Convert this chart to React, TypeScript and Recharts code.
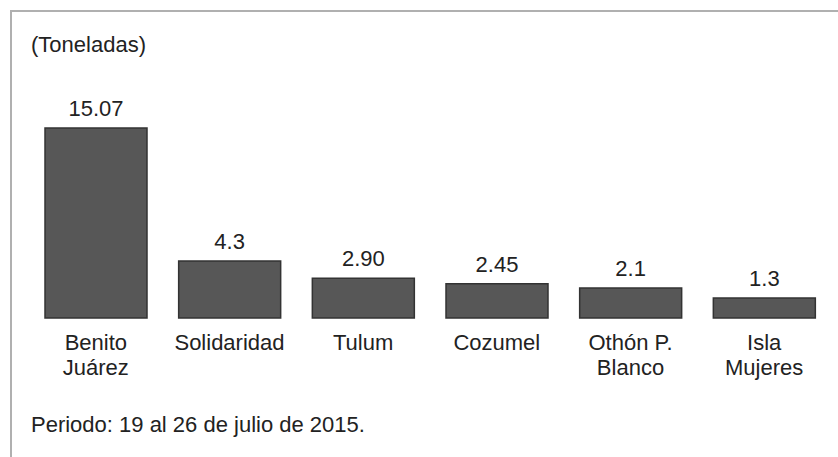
import { Bar, BarChart, LabelList, XAxis, YAxis } from "recharts";

// Municipios y toneladas
const municipios = ["Benito Juárez", "Solidaridad", "Tulum", "Cozumel", "Othón P. Blanco", "Isla Mujeres"];
const etiquetas = [["Benito", "Juárez"], ["Solidaridad"], ["Tulum"], ["Cozumel"], ["Othón P.", "Blanco"], ["Isla", "Mujeres"]];
const toneladas = [15.07, 4.3, 2.9, 2.45, 2.1, 1.3];
const textos = ["15.07", "4.3", "2.90", "2.45", "2.1", "1.3"];

// the printed bars start a little below zero
const base = -0.33;
const data = municipios.map((m, i) => ({ municipio: m, valor: toneladas[i], texto: textos[i] }));

const font = "'Liberation Sans', Arial, sans-serif";

function Tick(props: any) {
    const { x, y, index } = props;
    const lines = etiquetas[index] || [];
    return (
        <g>
            {lines.map((l, i) => (
                <text key={i} x={x} y={y + 24 + i * 25} textAnchor="middle" fill="#222" fontSize={22} fontFamily={font}>
                    {l}
                </text>
            ))}
        </g>
    );
}

export default function App() {
    return (
        <div style={{ position: "absolute", left: 0, top: 0, width: 838, height: 457, background: "#fff", fontFamily: font }}>
            <div style={{ position: "absolute", left: 10, top: 10, right: 0, bottom: 0, borderTop: "2px solid #b0b0b0", borderLeft: "2px solid #b0b0b0" }} />
            <div style={{ position: "absolute", left: 31, top: 32, fontSize: 22, color: "#222" }}>(Toneladas)</div>
            <div style={{ position: "absolute", left: 31, top: 412, fontSize: 22, color: "#222" }}>Periodo: 19 al 26 de julio de 2015.</div>
            <BarChart
                width={838}
                height={457}
                data={data}
                margin={{ top: 128, right: 7, bottom: 79, left: 29 }}
                style={{ position: "absolute", left: 0, top: 0 }}
            >
                <XAxis dataKey="municipio" axisLine={false} tickLine={false} height={60} interval={0} tick={<Tick />} />
                <YAxis hide domain={[base, 15.07]} />
                <Bar dataKey={(d: any) => [base, d.valor]} fill="#575757" stroke="#333" strokeWidth={1.5} barSize={102} isAnimationActive={false}>
                    <LabelList dataKey="texto" position="top" offset={12} fill="#222" fontSize={22} fontFamily={font} />
                </Bar>
            </BarChart>
        </div>
    );
}
